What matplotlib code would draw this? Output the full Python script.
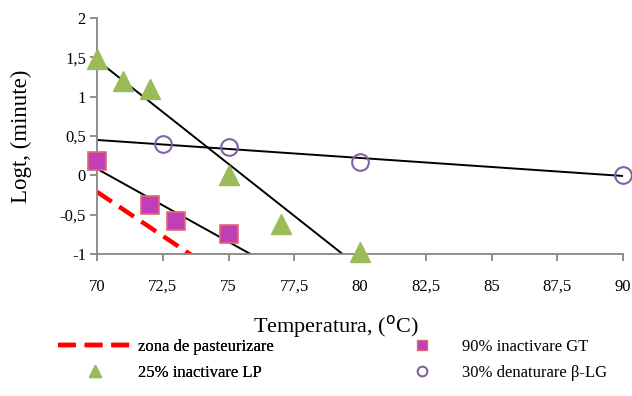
import numpy as np
import matplotlib.pyplot as plt
from matplotlib.lines import Line2D

# data
lp_temp = [70, 71, 72, 75, 77, 80]
lp_logt = [1.48, 1.2, 1.1, 0.0, -0.62, -0.97]

gt_temp = [70, 72, 73, 75]
gt_logt = [0.18, -0.38, -0.58, -0.745]

blg_temp = [72.5, 75, 80, 90]
blg_logt = [0.40, 0.36, 0.17, 0.01]

past_temp = [70, 75]
past_logt = [-0.21, -1.33]

x_ticks = [70, 72.5, 75, 77.5, 80, 82.5, 85, 87.5, 90]
y_ticks = [-1, -0.5, 0, 0.5, 1, 1.5, 2]


def comma(v):
    s = ("%g" % v).replace(".", ",")
    return s


def main():
    plt.rcParams["font.family"] = ["Liberation Serif", "DejaVu Serif"]

    fig = plt.figure(figsize=(6.32, 3.96), dpi=100)
    ax = fig.add_axes([97 / 632, 1 - 254 / 396, 526 / 632, 236 / 396])

    # trend lines (linear fits)
    for tx, ty, x0, x1 in [(lp_temp, lp_logt, 70, 82), (gt_temp, gt_logt, 70, 80),
                           (blg_temp, blg_logt, 70, 90)]:
        k, b = np.polyfit(tx, ty, 1)
        xs = np.array([x0, x1])
        ax.plot(xs, k * xs + b, "-", color="black", lw=1.4, zorder=2)

    ax.plot(past_temp, past_logt, "--", color="#ff0000", lw=3.2, dashes=(4, 2), zorder=2)

    ax.plot(lp_temp, lp_logt, "^", ms=14, color="#9bbb59", mec="#9bbb59", zorder=3, clip_on=False)
    ax.plot(gt_temp, gt_logt, "s", ms=12.5, color="#c03fb8", mec="#e06b6b", mew=1.2, zorder=3, clip_on=False)
    ax.plot(blg_temp, blg_logt, "o", ms=12, mfc="none", mec="#8064a2", mew=1.5, zorder=3, clip_on=False)

    ax.set_xlim(70, 90)
    ax.set_ylim(-1, 2)
    ax.set_xticks(x_ticks)
    ax.set_xticklabels([comma(v) for v in x_ticks])
    ax.set_yticks(y_ticks)
    ax.set_yticklabels([comma(v) for v in y_ticks])
    ax.tick_params(axis="both", labelsize=12, color="#868686", length=5, width=1.3)
    ax.tick_params(axis="x", pad=13)
    ax.tick_params(axis="y", pad=3)

    for side in ["top", "right"]:
        ax.spines[side].set_visible(False)
    for side in ["left", "bottom"]:
        ax.spines[side].set_color("#868686")
        ax.spines[side].set_linewidth(1.3)

    ax.set_xlabel("Temperatura, ($^{\\mathrm{o}}$C)", fontsize=16)
    ax.xaxis.set_label_coords((336 - 97) / 526, -(313 - 254) / 236)
    ax.set_ylabel("Logt, (minute)", fontsize=16.5)
    ax.yaxis.set_label_coords(-(97 - 32) / 526, 0.5)

    # legend, two columns placed separately
    h1 = Line2D([], [], color="#ff0000", ls="--", lw=3.2, dashes=(4, 2))
    h2 = Line2D([], [], marker="s", ls="none", ms=7, color="#c03fb8", mec="#e06b6b")
    h3 = Line2D([], [], marker="^", ls="none", ms=8, color="#9bbb59")
    h4 = Line2D([], [], marker="o", ls="none", ms=7, mfc="none", mec="#8064a2", mew=1.5)
    leg1 = fig.legend([h1, h3], ["zona de pasteurizare", "25% inactivare LP"],
                      loc="center left", bbox_to_anchor=(43 / 632, 1 - 360 / 396), frameon=False,
                      fontsize=12, handlelength=4.4, handletextpad=0.4, labelspacing=0.6)
    fig.add_artist(leg1)
    fig.legend([h2, h4], ["90% inactivare GT", "30% denaturare β-LG"],
               loc="center left", bbox_to_anchor=(394 / 632, 1 - 360 / 396), frameon=False,
               fontsize=12, handlelength=1.5, handletextpad=1.7, labelspacing=0.6)

    fig.savefig("out.png", dpi=100)


if __name__ == "__main__":
    main()
